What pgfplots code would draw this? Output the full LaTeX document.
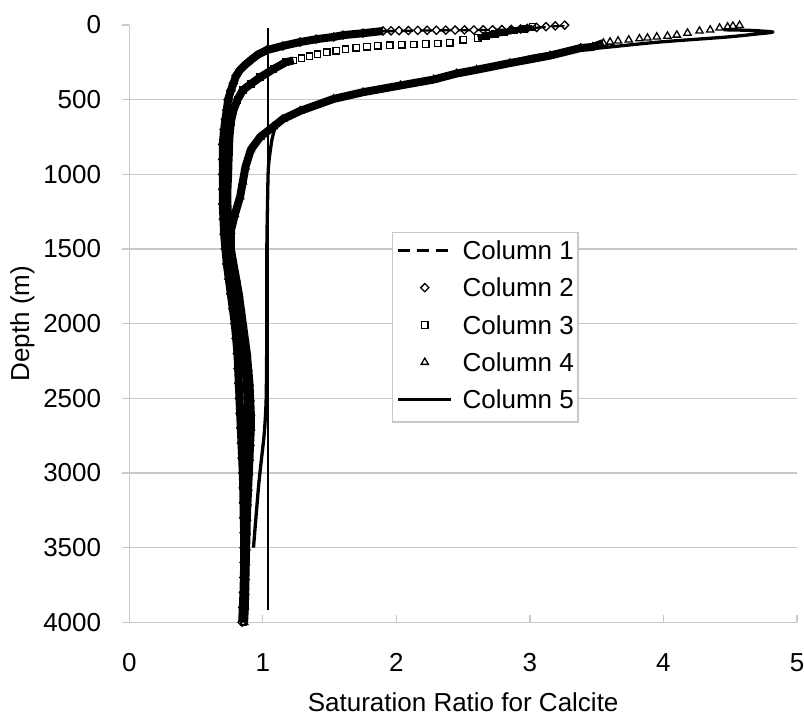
\documentclass[border=0pt]{standalone}
\usepackage{fontspec}
\setmainfont{Liberation Sans}
\usepackage{pgfplots}
\pgfplotsset{compat=1.18}
\definecolor{gridgray}{RGB}{200,200,200}
\pgfplotsset{
  legline/.style={legend image code/.code={\path (0bp,0bp) (53bp,0bp); \draw[##1] (0bp,2.3bp) -- (53bp,2.3bp);}},
  legmark/.style={legend image code/.code={\path (0bp,0bp) (53bp,0bp); \draw[##1] plot[only marks] coordinates {(26.5bp,2.3bp)};}},
}
\begin{document}
\begin{tikzpicture}
\begin{axis}[
  scale only axis,
  width=667.7bp, height=597.3bp,
  xmin=0, xmax=5, ymin=0, ymax=4000,
  y dir=reverse,
  axis x line*=bottom, axis y line*=left,
  axis line style={gridgray, line width=1.3bp},
  xtick={0,1,2,3,4,5},
  ytick={500,1000,...,4000},
  extra y ticks={0},
  extra y tick style={grid=none},
  ymajorgrids,
  major grid style={gridgray, line width=1.3bp},
  major tick length=7bp,
  xtick align=inside, ytick align=outside,
  tick style={gridgray, line width=1.3bp},
  scaled y ticks=false,
  /pgf/number format/1000 sep={},
  /pgf/number format/assume math mode=true,
  tick label style={font=\fontsize{26bp}{31bp}\selectfont, text=black},
  xticklabel style={anchor=north, inner sep=0pt, yshift=-31bp},
  yticklabel style={anchor=east, inner sep=0pt, xshift=-21bp},
  label style={font=\fontsize{26bp}{31bp}\selectfont},
  xlabel={Saturation Ratio for Calcite},
  ylabel={Depth (m)},
  xlabel style={at={(axis description cs:0.5,-0.1485)}, anchor=base, inner sep=0pt},
  ylabel style={at={(axis description cs:-0.1602,0.5)}, anchor=center},
  legend style={at={(axis description cs:0.3934,0.6534)}, anchor=north west,
    draw=gridgray, line width=1.3bp, fill=white,
    font=\fontsize{26bp}{31bp}\selectfont,
    inner xsep=4bp, inner ysep=7bp, row sep=11.3bp,
    nodes={inner sep=0pt, text height=20bp, text depth=6bp},
    /tikz/every odd column/.append style={column sep=9.7bp}},
  legend cell align=left,
]
% reference line at saturation ratio of about 1
\addplot[forget plot, black, line width=2.3bp] coordinates {(1.04,20) (1.04,3920)};

% solid-looking (densely marked, overlapping) parts of the marker series
\addplot[forget plot, black, line width=8bp, line join=round] coordinates {
(1.90,40) (1.75,55) (1.60,68) (1.53,80) (1.40,95) (1.28,114) (1.15,140) (1.03,168) (0.96,200) (0.91,235) (0.87,265) (0.83,300) (0.80,340) (0.78,390) (0.76,440) (0.74,500) (0.73,570) (0.72,630) (0.71,700) (0.70,800) (0.70,900) (0.70,1000) (0.70,1100) (0.70,1200) (0.705,1300) (0.71,1400) (0.72,1500) (0.73,1600) (0.745,1700) (0.76,1800) (0.775,1900) (0.79,2000) (0.80,2100) (0.81,2200) (0.815,2300) (0.82,2400) (0.825,2500) (0.83,2600) (0.835,2700) (0.84,2800) (0.845,2900) (0.85,3000) (0.853,3100) (0.855,3200) (0.857,3300) (0.86,3400) (0.86,3500) (0.86,3600) (0.858,3700) (0.855,3800) (0.85,3900) (0.845,4000)};
\addplot[forget plot, black, line width=6bp, line join=round] coordinates {
(3.02,13) (2.95,25) (2.88,37) (2.81,50) (2.74,62) (2.67,75) (2.61,87)};
\addplot[forget plot, black, line width=8bp, line join=round] coordinates {
(1.23,237) (1.17,250) (1.08,295) (0.98,350) (0.91,395) (0.85,436) (0.81,500) (0.78,570) (0.76,650) (0.75,750) (0.745,850) (0.74,1000) (0.735,1100) (0.735,1200) (0.74,1300) (0.745,1400) (0.755,1500) (0.77,1600) (0.785,1700) (0.80,1800) (0.815,1900) (0.83,2000) (0.845,2100) (0.86,2200) (0.87,2300) (0.88,2400) (0.885,2500) (0.89,2600) (0.89,2700) (0.89,2800) (0.885,2900) (0.88,3000) (0.877,3100) (0.875,3200) (0.873,3300) (0.87,3400) (0.87,3500) (0.868,3600) (0.866,3700) (0.864,3800) (0.86,3900) (0.855,4000)};
\addplot[forget plot, black, line width=8bp, line join=round] coordinates {
(3.55,121) (3.47,147) (3.38,154) (3.15,205) (2.85,255) (2.60,300) (2.45,325) (2.28,365) (2.03,405) (1.75,450) (1.53,495) (1.28,575) (1.15,630) (1.08,680) (0.98,750) (0.91,835) (0.87,950) (0.85,1050) (0.83,1150) (0.79,1270) (0.76,1380) (0.76,1500) (0.78,1600) (0.80,1700) (0.82,1800) (0.835,1900) (0.85,2000) (0.865,2100) (0.88,2200) (0.89,2300) (0.90,2400) (0.905,2500) (0.91,2600) (0.91,2700) (0.905,2800) (0.90,2900) (0.895,3000) (0.89,3100) (0.885,3200) (0.88,3300) (0.878,3400) (0.875,3500) (0.872,3600) (0.87,3700) (0.868,3800) (0.865,3900) (0.86,4000)};

% Column 1
\addplot[legline, black, line width=2.3bp, dash pattern=on 12bp off 7bp] coordinates {
(3.26,2) (3.05,18) (2.95,31) (2.60,34) (2.20,37) (1.90,42) (1.60,70) (1.28,116) (1.03,170) (0.91,237) (0.83,302) (0.78,390) (0.74,500) (0.72,630) (0.70,800) (0.70,1200) (0.715,1500) (0.79,2000) (0.825,2500) (0.85,3000) (0.86,3500) (0.845,4000)};
\addlegendentry{Column 1}

% Column 2
\addplot[legmark, only marks, mark=square, mark size=2.9bp,
  mark options={draw=black, line width=1.3bp, rotate=45}] coordinates {
(3.26,1) (3.19,6) (3.12,11) (3.05,16) (2.98,22) (2.93,27) (2.86,30) (2.79,31) (2.72,32) (2.65,32) (2.58,33) (2.51,33) (2.44,34) (2.37,34) (2.30,35) (2.23,35) (2.16,36) (2.09,37) (2.02,38) (1.96,39)
(1.90,40) (1.75,55) (1.60,68) (1.53,80) (1.40,95) (1.28,114) (1.15,140) (1.03,168) (0.96,200) (0.91,235) (0.87,265) (0.83,300) (0.80,340) (0.78,390) (0.76,440) (0.74,500) (0.73,570) (0.72,630) (0.71,700) (0.70,800) (0.70,900) (0.70,1000) (0.70,1100) (0.70,1200) (0.705,1300) (0.71,1400) (0.72,1500) (0.73,1600) (0.745,1700) (0.76,1800) (0.775,1900) (0.79,2000) (0.80,2100) (0.81,2200) (0.815,2300) (0.82,2400) (0.825,2500) (0.83,2600) (0.835,2700) (0.84,2800) (0.845,2900) (0.85,3000) (0.853,3100) (0.855,3200) (0.857,3300) (0.86,3400) (0.86,3500) (0.86,3600) (0.858,3700) (0.855,3800) (0.85,3900) (0.845,4000)};
\addlegendentry{Column 2}

% Column 3
\addplot[legmark, only marks, mark=square, mark size=3.2bp,
  mark options={draw=black, line width=1.3bp}] coordinates {
(3.02,13) (2.95,25) (2.88,37) (2.81,50) (2.74,62) (2.67,75) (2.61,87) (2.50,100) (2.40,120) (2.31,124) (2.22,127) (2.13,130) (2.04,133) (1.95,136) (1.86,140) (1.78,146) (1.70,153) (1.62,162) (1.55,172) (1.48,182) (1.41,195) (1.35,208) (1.29,222) (1.23,237)
(1.17,250) (1.08,295) (0.98,350) (0.91,395) (0.85,436) (0.81,500) (0.78,570) (0.76,650) (0.75,750) (0.745,850) (0.74,1000) (0.735,1100) (0.735,1200) (0.74,1300) (0.745,1400) (0.755,1500) (0.77,1600) (0.785,1700) (0.80,1800) (0.815,1900) (0.83,2000) (0.845,2100) (0.86,2200) (0.87,2300) (0.88,2400) (0.885,2500) (0.89,2600) (0.89,2700) (0.89,2800) (0.885,2900) (0.88,3000) (0.877,3100) (0.875,3200) (0.873,3300) (0.87,3400) (0.87,3500) (0.868,3600) (0.866,3700) (0.864,3800) (0.86,3900) (0.855,4000)};
\addlegendentry{Column 3}

% Column 4
\addplot[legmark, only marks, mark=triangle, mark size=4.2bp,
  mark options={draw=black, line width=1.3bp}] coordinates {
(4.57,2) (4.52,7) (4.48,13) (4.42,20) (4.35,33) (4.27,40) (4.18,54) (4.10,67) (4.03,74) (3.95,80) (3.88,87) (3.82,92) (3.74,100) (3.66,107) (3.60,114) (3.55,121)
(3.47,147) (3.38,154) (3.15,205) (2.85,255) (2.60,300) (2.45,325) (2.28,365) (2.03,405) (1.75,450) (1.53,495) (1.28,575) (1.15,630) (1.08,680) (0.98,750) (0.91,835) (0.87,950) (0.85,1050) (0.83,1150) (0.79,1270) (0.76,1380) (0.76,1500) (0.78,1600) (0.80,1700) (0.82,1800) (0.835,1900) (0.85,2000) (0.865,2100) (0.88,2200) (0.89,2300) (0.90,2400) (0.905,2500) (0.91,2600) (0.91,2700) (0.905,2800) (0.90,2900) (0.895,3000) (0.89,3100) (0.885,3200) (0.88,3300) (0.878,3400) (0.875,3500) (0.872,3600) (0.87,3700) (0.868,3800) (0.865,3900) (0.86,4000)};
\addlegendentry{Column 4}

% Column 5
\addplot[legline, black, line width=3.3bp, line join=round, smooth, tension=0.4] coordinates {
(4.45,32) (4.65,36) (4.82,47) (4.70,60) (4.48,80) (3.97,114) (3.60,147) (3.23,181) (3.00,213) (2.85,250) (2.60,295) (2.45,322) (2.28,362) (2.03,402) (1.75,447) (1.53,492) (1.28,572) (1.15,628) (1.10,670) (1.07,760) (1.05,880) (1.04,980) (1.035,1200) (1.03,1500) (1.03,2000) (1.025,2500) (1.01,2740) (0.97,3070) (0.93,3500)};
\addlegendentry{Column 5}
\end{axis}
\pgfresetboundingbox
\path ([shift={(-129.3bp,-92.7bp)}]current axis.south west) rectangle ([shift={(7bp,25bp)}]current axis.north east);
\end{tikzpicture}
\end{document}
